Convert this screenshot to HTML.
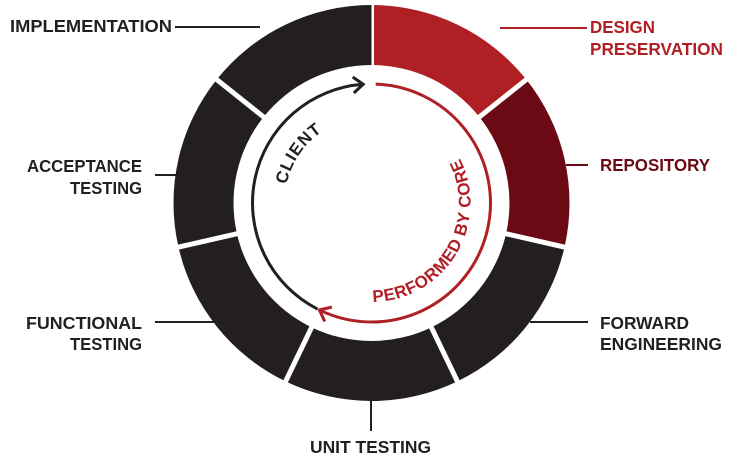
<!DOCTYPE html>
<html><head><meta charset="utf-8"><style>
html,body{margin:0;padding:0;background:#fff;}
svg{display:block;}
text{font-family:"Liberation Sans",sans-serif;font-weight:bold;font-size:17.5px;}
</style></head><body>
<svg id="s" width="733" height="455" viewBox="0 0 733 455" xmlns="http://www.w3.org/2000/svg">
<g id="ring"></g>
<g stroke-width="2" fill="none">
<line x1="175" y1="27" x2="260" y2="27" stroke="#231f20"/>
<line x1="500" y1="28" x2="587" y2="28" stroke="#b01f24"/>
<line x1="566" y1="165" x2="588" y2="165" stroke="#6b0a14"/>
<line x1="530" y1="322" x2="588" y2="322" stroke="#231f20"/>
<line x1="155" y1="175" x2="178" y2="175" stroke="#231f20"/>
<line x1="155" y1="322" x2="215" y2="322" stroke="#231f20"/>
<line x1="371" y1="400" x2="371" y2="431" stroke="#231f20"/>
</g>
<g id="arcs" fill="none" stroke-width="3" stroke-linecap="butt"></g>
<text x="10" y="32" fill="#231f20" textLength="162" lengthAdjust="spacingAndGlyphs">IMPLEMENTATION</text>
<text x="590" y="33" fill="#b01f24" textLength="65" lengthAdjust="spacingAndGlyphs">DESIGN</text>
<text x="590" y="55" fill="#b01f24" textLength="133" lengthAdjust="spacingAndGlyphs">PRESERVATION</text>
<text x="600" y="171" fill="#6b0a14" textLength="110" lengthAdjust="spacingAndGlyphs">REPOSITORY</text>
<text x="600" y="329" fill="#231f20" textLength="89" lengthAdjust="spacingAndGlyphs">FORWARD</text>
<text x="600" y="350" fill="#231f20" textLength="122" lengthAdjust="spacingAndGlyphs">ENGINEERING</text>
<text x="142" y="172" fill="#231f20" text-anchor="end" textLength="115" lengthAdjust="spacingAndGlyphs">ACCEPTANCE</text>
<text x="142" y="194" fill="#231f20" text-anchor="end" textLength="72" lengthAdjust="spacingAndGlyphs">TESTING</text>
<text x="142" y="329" fill="#231f20" text-anchor="end" textLength="116" lengthAdjust="spacingAndGlyphs">FUNCTIONAL</text>
<text x="142" y="350" fill="#231f20" text-anchor="end" textLength="72" lengthAdjust="spacingAndGlyphs">TESTING</text>
<text x="310" y="453" fill="#231f20" textLength="121" lengthAdjust="spacingAndGlyphs">UNIT TESTING</text>
<defs>
<path id="pc" d=""/>
<path id="pr" d=""/>
</defs>
<text fill="#231f20" style="font-size:17px;letter-spacing:0.8px"><textPath href="#pc" startOffset="50%" text-anchor="middle">CLIENT</textPath></text>
<text fill="#b01f24" style="font-size:17px;letter-spacing:0.6px"><textPath href="#pr" startOffset="50%" text-anchor="middle">PERFORMED BY CORE</textPath></text>
</svg>
<script>
var cx=371.5,cy=203,R=198,r=138;
function pt(a,rad){var t=a*Math.PI/180;return [cx+rad*Math.sin(t),cy-rad*Math.cos(t)];}
function arc(a1,a2,rad,cw){var p1=pt(a1,rad),p2=pt(a2,rad);var large=Math.abs(a2-a1)>180?1:0;return "M"+p1[0].toFixed(2)+" "+p1[1].toFixed(2)+" A"+rad+" "+rad+" 0 "+large+" "+(cw?1:0)+" "+p2[0].toFixed(2)+" "+p2[1].toFixed(2);}
var cols=["#b01f24","#6b0a14","#231f20","#231f20","#231f20","#231f20","#231f20"];
var ns="http://www.w3.org/2000/svg",g=document.getElementById("ring"),step=360/7;
for(var i=0;i<7;i++){var a1=i*step,a2=(i+1)*step;
var o1=pt(a1,R),o2=pt(a2,R),i2=pt(a2,r),i1=pt(a1,r);
var d="M"+o1+" A"+R+" "+R+" 0 0 1 "+o2+" L"+i2+" A"+r+" "+r+" 0 0 0 "+i1+"Z";
var p=document.createElementNS(ns,"path");p.setAttribute("d",d);p.setAttribute("fill",cols[i]);g.appendChild(p);
var l=document.createElementNS(ns,"line");var q1=pt(a1,r-2),q2=pt(a1,R+2);
l.setAttribute("x1",q1[0]);l.setAttribute("y1",q1[1]);l.setAttribute("x2",q2[0]);l.setAttribute("y2",q2[1]);
l.setAttribute("stroke","#fff");l.setAttribute("stroke-width","5");g.appendChild(l);}
var ar=document.getElementById("arcs"),ra=119;
function add(d,c){var p=document.createElementNS(ns,"path");p.setAttribute("d",d);p.setAttribute("stroke",c);ar.appendChild(p);}
function head(a,c){var tip=pt(a,ra),t=a*Math.PI/180;var dx=Math.cos(t),dy=Math.sin(t);var nx=-dy,ny=dx;
var L=10,W=8;
var w1=[tip[0]-L*dx+W*nx,tip[1]-L*dy+W*ny],w2=[tip[0]-L*dx-W*nx,tip[1]-L*dy-W*ny];
add("M"+w1+" L"+tip+" L"+w2,c);}
add(arc(207,356,ra,1),"#231f20");
head(356,"#231f20");
add(arc(2,206,ra,1),"#b01f24");
head(206,"#b01f24");
document.getElementById("pc").setAttribute("d",arc(-100,-12,87,1));
document.getElementById("pr").setAttribute("d",arc(192,50,99,0));
</script>
</body></html>
